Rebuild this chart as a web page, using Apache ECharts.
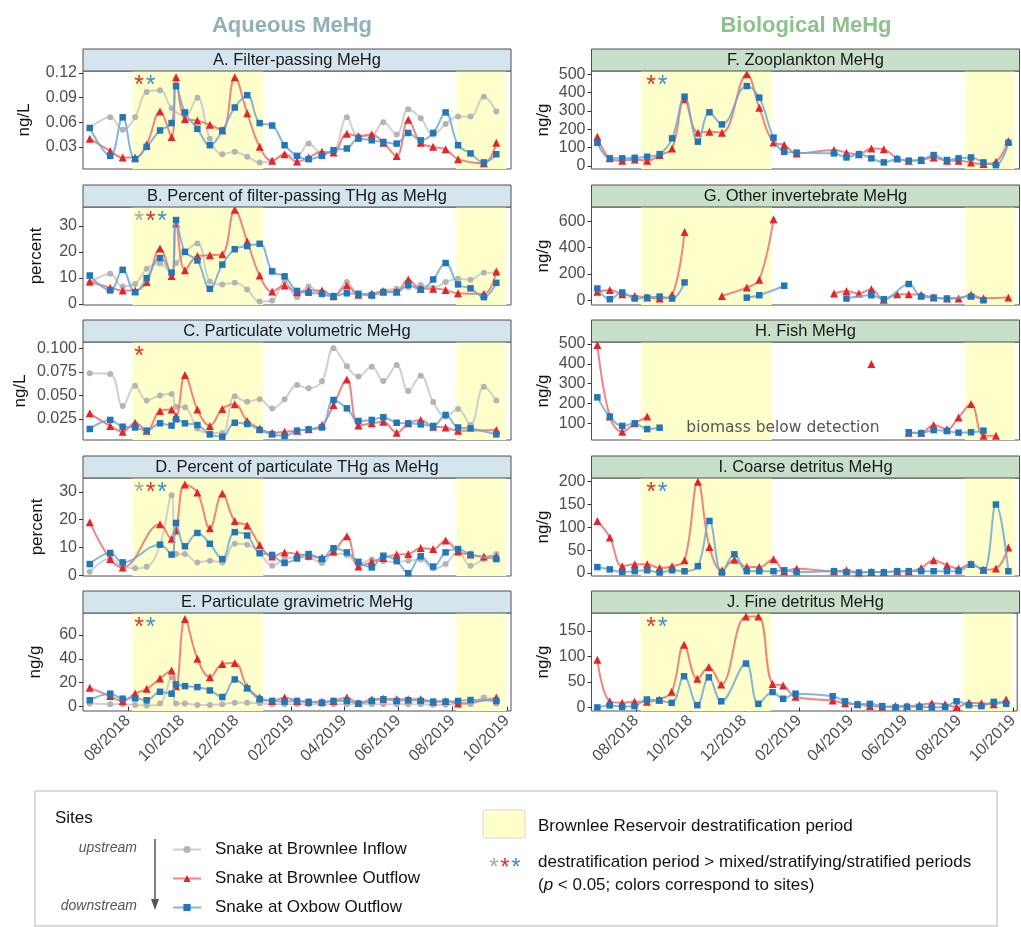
<!DOCTYPE html>
<html>
<head>
<meta charset="utf-8">
<script src="https://cdn.jsdelivr.net/npm/echarts@6/dist/echarts.min.js"></script>
<style>
  html, body { margin: 0; padding: 0; background: #ffffff; }
  #chart { width: 1021px; height: 927px; }
</style>
</head>
<body>
<div id="chart"></div>
<script>
// ---- Sampling dates -------------------------------------------------------
const aqDates = ['2018-06-19','2018-07-12','2018-07-26','2018-08-09','2018-08-22','2018-09-06','2018-09-19','2018-09-24',
  '2018-10-04','2018-10-18','2018-11-01','2018-11-15','2018-11-29','2018-12-13','2018-12-27','2019-01-10','2019-01-24',
  '2019-02-07','2019-02-20','2019-03-07','2019-03-20','2019-04-04','2019-04-17','2019-05-02','2019-05-15','2019-05-30',
  '2019-06-12','2019-06-26','2019-07-10','2019-07-24','2019-08-07','2019-08-21','2019-09-05','2019-09-19'];

const bioDates = ['2018-06-18','2018-07-02','2018-07-16','2018-07-30','2018-08-13','2018-08-27','2018-09-10','2018-09-24',
  '2018-10-09','2018-10-22','2018-11-05','2018-11-19','2018-12-03','2018-12-17','2019-01-02','2019-01-14','2019-01-28',
  '2019-02-11','2019-02-25','2019-03-11','2019-03-25','2019-04-08','2019-04-22','2019-05-06','2019-05-21','2019-06-03',
  '2019-06-17','2019-07-01','2019-07-16','2019-07-29','2019-08-12','2019-08-26','2019-09-09','2019-09-23'];

// null = not sampled (line continues), '-' = break in the line
// ---- A. Filter-passing MeHg (ng/L) ----
const aInflow  = [0.053,0.066,0.051,0.066,0.097,0.099,0.077,null,0.068,0.090,0.040,0.021,0.024,0.018,0.011,0.013,0.020,0.019,0.034,0.022,0.024,0.066,0.043,0.044,0.060,0.045,0.076,0.065,0.045,0.058,0.067,0.067,0.091,0.073];
const aOutflow = [0.040,0.025,0.017,0.017,0.033,0.073,0.042,0.115,0.064,0.062,0.057,0.050,0.115,0.071,0.030,0.013,0.021,0.012,0.017,0.024,0.023,0.046,0.043,0.045,0.035,0.019,0.063,0.035,0.030,0.027,0.015,null,0.010,0.035];
const aOxbow   = [0.053,0.019,0.066,0.015,0.030,0.050,0.059,0.104,0.072,0.052,0.032,0.050,0.078,0.093,0.059,0.056,0.032,0.019,0.015,0.019,0.026,0.028,0.040,0.038,0.036,0.034,0.047,0.038,0.047,0.072,0.032,0.022,0.011,0.021];
// ---- B. Percent of filter-passing THg as MeHg ----
const bInflow  = [8,11.6,6.7,7.7,13.5,15.5,11.8,15.7,null,23.2,8.6,7.5,8.1,5.5,0.9,1.3,8.6,2.6,6.7,3.5,3,8.4,3.9,3.9,5.2,5.8,6.4,7.3,6.2,8.4,9.7,9.3,12,12];
const bOutflow = [8.6,6.2,5.2,5.2,8.4,21.3,10.7,30.9,12.9,18.4,18.7,19.1,36.1,24,10.9,4.8,7.1,4.5,5.2,5.2,3,7.1,3.5,3.9,4.8,4.8,9.4,5.8,5.8,5.4,4.1,null,3.9,12.5];
const bOxbow   = [10.9,5.2,13.1,4.5,9.9,17.6,12,32.2,20,16.7,5.8,15.1,21,22.2,23.1,12.5,10.6,5,4.3,3.9,3,4.1,3.9,3.2,4.5,4.5,7.3,5.5,9.4,15.7,7.5,6,2.6,8.1];
// ---- C. Particulate volumetric MeHg (ng/L) ----
const cInflow  = [0.0735,0.0728,0.0388,0.0604,0.0445,0.050,0.0515,0.038,0.0374,0.015,0.010,0.010,0.049,0.0434,0.046,0.036,0.046,0.061,0.0575,0.065,0.100,0.081,0.070,0.0805,0.0653,0.0823,0.0547,0.071,0.043,0.0275,0.0356,0.0186,0.0593,0.0445];
const cOutflow = [0.031,0.0176,0.0115,0.021,0.0126,0.0335,0.035,0.028,0.0717,0.035,0.0176,0.0356,0.0406,0.0229,0.015,0.0105,0.0115,0.0126,0.014,0.0186,0.0398,0.067,0.018,0.0204,0.022,0.0105,0.0204,0.024,0.0168,0.016,0.0126,null,null,0.0133];
const cOxbow   = [0.0144,0.024,0.0168,0.016,0.0126,0.0204,0.018,0.0246,0.0204,0.0186,0.0087,0.0062,0.021,0.0197,0.0133,0.0087,0.007,0.0126,0.014,0.016,0.0452,0.0363,0.0229,0.024,0.0268,0.021,0.0204,0.0193,0.0176,0.0293,0.016,0.015,null,0.0087];
// ---- D. Percent of particulate THg as MeHg ----
const dInflow  = [1.2,6,3,2.5,3,10.9,28.8,7.6,7.6,4.6,5.2,4.6,11.3,11,8,3.4,5.8,6.4,6.4,4.4,7.9,7.3,4,5.6,5,4.8,5.2,5.6,2.4,4,8.5,3.4,5.8,7.6];
const dOutflow = [19.1,5.8,2.8,null,null,18.3,13.1,16.1,32.7,29.8,16.9,29.4,19.5,17.9,10.9,6.7,8.2,7.6,7,6.4,8.5,14,3.1,4.8,6.2,7.4,7.6,9.8,9.4,12.5,8.5,7.4,6.7,6.7];
const dOxbow   = [4,8,4.6,null,null,11,7.4,18.8,10.4,15.2,11.3,5.8,15.5,14.3,7.9,7.3,4.4,6,7.6,5.8,9.7,8.2,4.8,2.8,7,5.1,0.7,6.8,3.1,8.2,9.4,7.4,null,5.8];
// ---- E. Particulate gravimetric MeHg (ng/g) ----
const eInflow  = [2.5,2,2,1.4,0.8,2.5,24.6,2.5,2.5,1.4,1.4,2,3.3,3.3,2.8,2,2,2,2,2,2,2,2,2,2,2,2,2,1.5,1.5,2,2,7.5,2.5];
const eOutflow = [15.8,8.8,4.7,11,14.9,23.5,30.1,17.1,73.3,40.1,24.6,35.7,36.5,16.3,7.5,4.7,7.5,4.7,4.1,4.1,4.7,7.5,3,6.1,6.6,6.1,6.1,6.1,4.1,4.7,2.5,null,null,7.5];
const eOxbow   = [5.3,10.8,6.6,6.9,5.3,12.4,10.8,18.5,17.1,16.3,13.5,8,22.7,15.2,6.1,4.7,4.1,4.7,3.9,3.3,4.7,4.7,2.5,4.7,6.1,4.7,5.3,4.7,4.1,4.1,4.7,5.5,null,4.7];
// ---- F. Zooplankton MeHg (ng/g) ----
const fOutflow = [160,42,29,36,29,60,96,364,182,187,182,null,500,318,129,115,69,null,null,87,73,64,96,91,42,29,33,47,29,29,20,11,24,136];
const fOxbow   = [127,42,42,45,51,65,151,378,133,293,227,null,436,373,155,78,73,null,null,69,47,65,42,20,38,29,33,60,33,42,47,20,5,127];
// ---- G. Other invertebrate MeHg (ng/g) ----
const gOutflow = [64,77,46,33,20,13,41,518,'-',null,33,null,97,156,615,'-',null,null,null,51,71,51,84,3,46,46,41,20,13,13,41,15,null,20];
const gOxbow   = [89,8,59,13,20,28,13,135,'-',null,null,null,20,38,null,110,'-',null,null,null,13,null,38,8,null,123,28,20,13,null,28,0,null,null];
// ---- H. Fish MeHg (ng/g) ----
const hOutflow = [495,134,58,100,134,'-',null,null,null,null,null,null,null,null,null,null,null,null,null,null,null,null,399,'-',null,53,53,92,70,130,197,38,38,null];
const hOxbow   = [231,134,87,100,71,78,'-',null,null,null,null,null,null,null,null,null,null,null,null,null,null,null,null,null,null,55,50,66,61,53,55,63,null,null];
// ---- I. Coarse detritus MeHg (ng/g) ----
const iOutflow = [114,78,15,19,19,11,15,28,200,57,6,29,13,13,30,4,9.5,null,null,4,6,1,2,2,4,4,11,28,17,10,20,7,10,56];
const iOxbow   = [13,8,2,4,6,1,6,4,15,114,1,41,4,4,4,6,2,null,null,4,2,1,2,1.5,4,4,4,4,4,4,19,6,150,4];
// ---- J. Fine detritus MeHg (ng/g) ----
const jOutflow = [93.5,12,9,11,11,15.6,30.5,123,56,79,45,null,178,178,46,43,21,null,null,13.6,8,6,2.6,1.3,2.6,2.6,4.5,8,6,0.6,9,8,6,15.6];
const jOxbow   = [0,4,1.3,2.6,15.6,13.6,9,61,4.5,59,12,null,86,7,30,17,27,null,null,22,12,6,7,2.6,0,1.3,1.3,0,1.3,12,4.5,2.6,11,7];

// Reservoir destratification periods
const destratPeriods = [['2018-08-06','2018-12-31'], ['2019-08-05','2019-09-30']];
// Month tick labels
const monthTicks = ['2018-08-01','2018-10-01','2018-12-01','2019-02-01','2019-04-01','2019-06-01','2019-08-01','2019-10-01'];
const siteNames = ['Snake at Brownlee Inflow', 'Snake at Brownlee Outflow', 'Snake at Oxbow Outflow'];

// ---- Layout & styling -----------------------------------------------------
const FONT = '"Liberation Sans", Arial, Helvetica, sans-serif';
const ts = d => Date.parse(d);
const X_MIN = Date.UTC(2018, 5, 11, 10);
const X_MAX = Date.UTC(2019, 9, 5, 12);
const ROW_TOPS = [71, 207, 342, 478, 613];
const PLOT_H = 98;
const COL_LEFTS = [83, 591.5];
const PLOT_W = 428;
const STRIP_H = 22;
const STRIP_FILL = ['#d5e5ee', '#c8dfc9'];

const siteStyle = [
  { symbol: 'circle',   size: 6, color: '#b4b4b4', line: 'rgba(196,196,196,0.8)' },
  { symbol: 'triangle', size: 8, color: '#e4242b', line: 'rgba(239,112,112,0.85)' },
  { symbol: 'rect',     size: 6.5, color: '#2477b6', line: 'rgba(112,170,210,0.85)' }
];
const starColor = ['#a9a9a9', '#d93131', '#3c90c7'];

const panels = [
  { title: 'A. Filter-passing MeHg', col: 0, row: 0, unit: 'ng/L', yMin: 0.003, yMax: 0.1225, ticks: [0.03, 0.06, 0.09, 0.12], dec: 2, gap: 50, dates: aqDates, sites: [aInflow, aOutflow, aOxbow], stars: [1, 2] },
  { title: 'B. Percent of filter-passing THg as MeHg', col: 0, row: 1, unit: 'percent', yMin: -0.4, yMax: 37.2, ticks: [0, 10, 20, 30], dec: 0, gap: 38, dates: aqDates, sites: [bInflow, bOutflow, bOxbow], stars: [0, 1, 2] },
  { title: 'C. Particulate volumetric MeHg', col: 0, row: 2, unit: 'ng/L', yMin: 0.0027, yMax: 0.1067, ticks: [0.025, 0.05, 0.075, 0.1], dec: 3, gap: 54, dates: aqDates, sites: [cInflow, cOutflow, cOxbow], stars: [1] },
  { title: 'D. Percent of particulate THg as MeHg', col: 0, row: 3, unit: 'percent', yMin: -0.3, yMax: 35, ticks: [0, 10, 20, 30], dec: 0, gap: 37, dates: aqDates, sites: [dInflow, dOutflow, dOxbow], stars: [0, 1, 2] },
  { title: 'E. Particulate gravimetric MeHg', col: 0, row: 4, unit: 'ng/g', yMin: -3.7, yMax: 78.3, ticks: [0, 20, 40, 60], dec: 0, gap: 39, dates: aqDates, sites: [eInflow, eOutflow, eOxbow], stars: [1, 2] },
  { title: 'F. Zooplankton MeHg', col: 1, row: 0, unit: 'ng/g', yMin: -16, yMax: 518, ticks: [0, 100, 200, 300, 400, 500], dec: 0, gap: 40, dates: bioDates, sites: [null, fOutflow, fOxbow], stars: [1, 2] },
  { title: 'G. Other invertebrate MeHg', col: 1, row: 1, unit: 'ng/g', yMin: -36, yMax: 707, ticks: [0, 200, 400, 600], dec: 0, gap: 40, dates: bioDates, sites: [null, gOutflow, gOxbow], stars: [] },
  { title: 'H. Fish MeHg', col: 1, row: 2, unit: 'ng/g', yMin: 16, yMax: 510, ticks: [100, 200, 300, 400, 500], dec: 0, gap: 40, dates: bioDates, sites: [null, hOutflow, hOxbow], stars: [] },
  { title: 'I. Coarse detritus MeHg', col: 1, row: 3, unit: 'ng/g', yMin: -6.5, yMax: 208, ticks: [0, 50, 100, 150, 200], dec: 0, gap: 40, dates: bioDates, sites: [null, iOutflow, iOxbow], stars: [1, 2] },
  { title: 'J. Fine detritus MeHg', col: 1, row: 4, unit: 'ng/g', yMin: -7, yMax: 185, ticks: [0, 50, 100, 150], dec: 0, gap: 40, dates: bioDates, sites: [null, jOutflow, jOxbow], stars: [1, 2] }
];

const pad2 = n => (n < 10 ? '0' : '') + n;
const monthLabel = v => { const d = new Date(v); return pad2(d.getUTCMonth() + 1) + '/' + d.getUTCFullYear(); };
const monthTs = monthTicks.map(ts);

function toPoints(dates, values) {
  const out = [];
  values.forEach((v, i) => {
    if (v === null) return;
    out.push([ts(dates[i]), v === '-' ? '-' : v]);
  });
  return out;
}

const grids = [], xAxes = [], yAxes = [], series = [], graphics = [];
const centered = { textAlign: 'center', textVerticalAlign: 'middle', align: 'center', verticalAlign: 'middle' };

panels.forEach((p, i) => {
  const left = COL_LEFTS[p.col];
  const top = ROW_TOPS[p.row];
  const bottomRow = p.row === 4;
  grids.push({ left: left, top: top, width: PLOT_W, height: PLOT_H, show: true, borderColor: '#4f4f4f', borderWidth: 1, backgroundColor: 'transparent', containLabel: false });
  xAxes.push({
    gridIndex: i, type: 'value', min: X_MIN, max: X_MAX,
    axisLine: { show: false }, splitLine: { show: false },
    axisTick: { show: bottomRow, customValues: monthTs, length: 4, lineStyle: { color: '#333' } },
    axisLabel: { show: bottomRow, customValues: monthTs, rotate: 45, formatter: monthLabel, fontSize: 16, color: '#4d4d4d', fontFamily: FONT, margin: 7 }
  });
  yAxes.push({
    gridIndex: i, type: 'value', min: p.yMin, max: p.yMax,
    axisLine: { show: false }, splitLine: { show: false },
    axisTick: { show: true, customValues: p.ticks, length: 4, lineStyle: { color: '#333' } },
    axisLabel: { customValues: p.ticks, formatter: v => v.toFixed(p.dec), fontSize: 16, color: '#4d4d4d', fontFamily: FONT, margin: 6 },
    name: p.unit, nameLocation: 'middle', nameRotate: 90, nameGap: p.gap,
    nameTextStyle: { fontSize: 17, color: '#111', fontFamily: FONT }
  });
  p.sites.forEach((vals, s) => {
    if (!vals) return;
    const st = siteStyle[s];
    const ser = {
      type: 'line', name: siteNames[s], xAxisIndex: i, yAxisIndex: i,
      data: toPoints(p.dates, vals),
      smooth: 0.4, connectNulls: false,
      symbol: st.symbol, symbolSize: st.size, showSymbol: true,
      itemStyle: { color: st.color },
      lineStyle: { color: st.line, width: 2 },
      emphasis: { disabled: true }, silent: true, z: 2 + s
    };
    if (s === 1) {
      ser.markArea = {
        silent: true, z: 1,
        itemStyle: { color: '#ffffcc' },
        data: destratPeriods.map(([a, b]) => [{ xAxis: ts(a) }, { xAxis: ts(b) }])
      };
    }
    series.push(ser);
  });

  // facet strip
  graphics.push({ type: 'rect', z: 10, shape: { x: left, y: top - STRIP_H, width: PLOT_W, height: STRIP_H },
    style: { fill: STRIP_FILL[p.col], stroke: '#4f4f4f', lineWidth: 1 } });
  graphics.push({ type: 'text', z: 11, x: left + PLOT_W / 2, y: top - STRIP_H / 2,
    style: Object.assign({ text: p.title, fill: '#1a1a1a', fontSize: 16.5, fontFamily: FONT }, centered) });

  // significance asterisks
  const sx0 = p.col === 0 ? 139 : 651;
  p.stars.forEach((s, k) => {
    graphics.push({ type: 'text', z: 12, x: sx0 + k * 11.5, y: top + 15,
      style: Object.assign({ text: '*', fill: starColor[s], fontSize: 25, fontFamily: FONT }, centered) });
  });
});

// note inside the fish panel
graphics.push({ type: 'text', z: 12, x: 783, y: 428,
  style: Object.assign({ text: 'biomass below detection', fill: '#555', fontSize: 15.5, fontFamily: '"DejaVu Sans", sans-serif' }, centered) });

// column headings
graphics.push({ type: 'text', x: 292, y: 26, style: Object.assign({ text: 'Aqueous MeHg', fill: '#8fb1b7', fontSize: 22, fontWeight: 'bold', fontFamily: FONT }, centered) });
graphics.push({ type: 'text', x: 806, y: 26, style: Object.assign({ text: 'Biological MeHg', fill: '#8fc18f', fontSize: 22, fontWeight: 'bold', fontFamily: FONT }, centered) });

// legend frame and key
const L = (o) => Object.assign({ textAlign: 'left', textVerticalAlign: 'middle', align: 'left', verticalAlign: 'middle', fontFamily: FONT }, o);
graphics.push({ type: 'rect', z: 0, shape: { x: 35, y: 791, width: 962, height: 135 }, style: { fill: '#fff', stroke: '#cfcfcf', lineWidth: 1.5 } });
graphics.push({ type: 'text', x: 55, y: 818, style: L({ text: 'Sites', fill: '#111', fontSize: 17 }) });
graphics.push({ type: 'text', x: 137, y: 848, style: L({ text: 'upstream', fill: '#555', fontSize: 14, fontStyle: 'italic', textAlign: 'right', align: 'right' }) });
graphics.push({ type: 'text', x: 137, y: 906, style: L({ text: 'downstream', fill: '#555', fontSize: 14, fontStyle: 'italic', textAlign: 'right', align: 'right' }) });
graphics.push({ type: 'line', shape: { x1: 155, y1: 839, x2: 155, y2: 903 }, style: { stroke: '#555', lineWidth: 1.5 } });
graphics.push({ type: 'polygon', shape: { points: [[151, 899], [159, 899], [155, 910]] }, style: { fill: '#555' } });
graphics.push({ type: 'rect', shape: { x: 483, y: 810, width: 42, height: 28 }, style: { fill: '#ffffcc', stroke: '#d9d9d9', lineWidth: 1 } });
graphics.push({ type: 'text', x: 538, y: 826, style: L({ text: 'Brownlee Reservoir destratification period', fill: '#111', fontSize: 17 }) });
[0, 1, 2].forEach(k => {
  graphics.push({ type: 'text', x: 494 + k * 11, y: 868, style: Object.assign({ text: '*', fill: starColor[k], fontSize: 24, fontFamily: FONT }, centered) });
});
graphics.push({ type: 'text', x: 538, y: 862, style: L({ text: 'destratification period > mixed/stratifying/stratified periods', fill: '#111', fontSize: 17 }) });
graphics.push({ type: 'text', x: 538, y: 885, style: L({
  text: '({i|p} < 0.05; colors correspond to sites)', fill: '#111', fontSize: 17,
  rich: { i: { fontStyle: 'italic', fontSize: 17, fontFamily: FONT, fill: '#111' } } }) });

const option = {
  animation: false,
  backgroundColor: '#ffffff',
  grid: grids,
  xAxis: xAxes,
  yAxis: yAxes,
  series: series,
  legend: {
    data: siteNames, orient: 'vertical', left: 167, top: 836,
    itemWidth: 28, itemHeight: 9, itemGap: 12, selectedMode: false,
    textStyle: { fontSize: 17, color: '#111', fontFamily: FONT, padding: [0, 0, 0, 9] }
  },
  graphic: { elements: graphics }
};

const chart = echarts.init(document.getElementById('chart'));
chart.setOption(option);
</script>
</body>
</html>
